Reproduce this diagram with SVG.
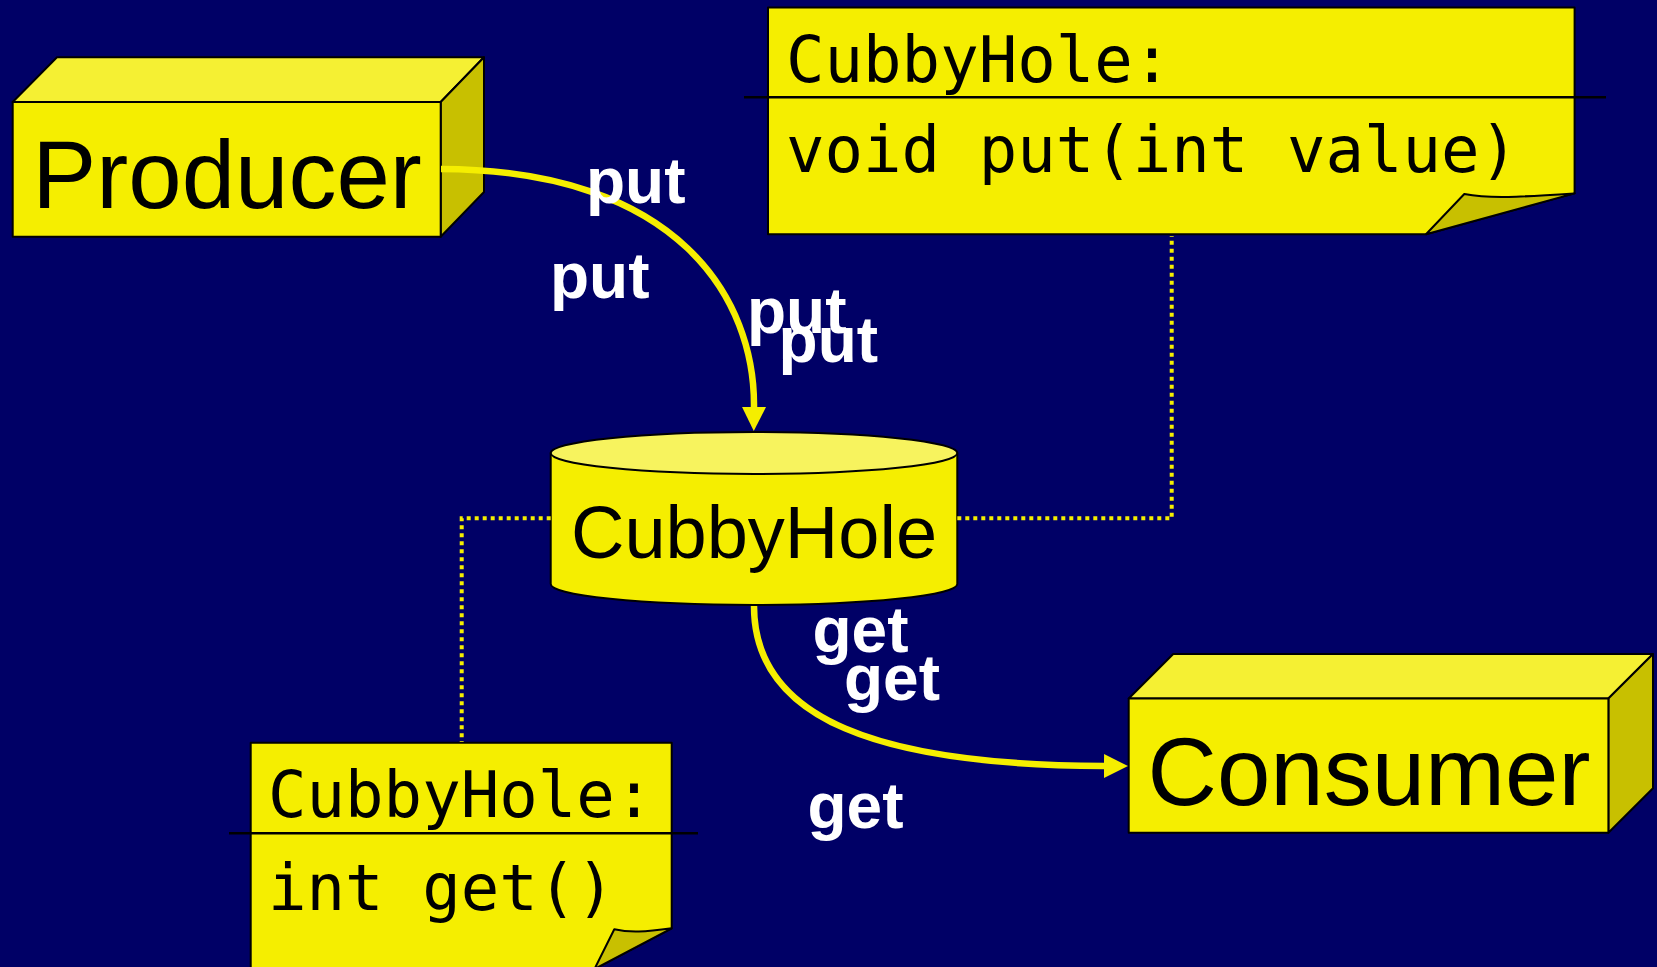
<svg xmlns="http://www.w3.org/2000/svg" width="1657" height="967" viewBox="0 0 1657 967">
<style>
.front{fill:#f5ee00;stroke:#000;stroke-width:2;stroke-linejoin:round}
.top{fill:#f5f033;stroke:#000;stroke-width:2;stroke-linejoin:round}
.side{fill:#c8c000;stroke:#000;stroke-width:2;stroke-linejoin:round}
.note{fill:#f5ee00;stroke:#000;stroke-width:2;stroke-linejoin:round}
.fold{fill:#c8c000;stroke:#000;stroke-width:2;stroke-linejoin:round}
.div{stroke:#000;stroke-width:2.5}
.big{font-family:"Liberation Sans",Arial,sans-serif;font-size:96px;fill:#000;text-anchor:middle}
.cyl{font-family:"Liberation Sans",Arial,sans-serif;font-size:74px;fill:#000;text-anchor:middle}
.mono{font-family:"DejaVu Sans Mono",monospace;font-size:64px;fill:#000}
.lbl{font-family:"Liberation Sans",Arial,sans-serif;font-size:64px;font-weight:bold;fill:#fff}
.flow{fill:none;stroke:#f5ee00;stroke-width:6.5}
.dot{fill:none;stroke:#f5ee00;stroke-width:4;stroke-dasharray:4 4}
</style>
<defs>
<marker id="ah" viewBox="0 0 24 24" refX="0" refY="12" markerWidth="24" markerHeight="24" markerUnits="userSpaceOnUse" orient="auto">
<path d="M0,0 L24,12 L0,24 z" fill="#f5ee00"/>
</marker>
</defs>
<rect x="0" y="0" width="1657" height="967" fill="#000066"/>

<g id="producer">
<polygon class="top" points="12.7,102 57,57.3 484,57.3 440.7,102"/>
<polygon class="side" points="440.7,102 484,57.3 484,192 440.7,236.7"/>
<rect class="front" x="12.7" y="102" width="428" height="134.7"/>
<text class="big" x="227" y="208">Producer</text>
</g>

<g id="consumer">
<polygon class="top" points="1128.7,698.5 1173.2,654 1653,654 1608.4,698.5"/>
<polygon class="side" points="1608.4,698.5 1653,654 1653,788.3 1608.4,832.8"/>
<rect class="front" x="1128.7" y="698.5" width="479.7" height="134.3"/>
<text class="big" x="1369" y="805">Consumer</text>
</g>

<g id="cubbyhole">
<path class="front" d="M550.7,453 L550.7,584 A203.3,21 0 0 0 957.3,584 L957.3,453 Z"/>
<ellipse cx="754" cy="453" rx="203.3" ry="21" fill="#f7f35e" stroke="#000" stroke-width="2"/>
<text class="cyl" x="754" y="558">CubbyHole</text>
</g>

<g id="note-put">
<polygon class="note" points="768,7.4 1574.6,7.4 1574.6,193.4 1426,234.3 768,234.3"/>
<path class="fold" d="M1426,234.3 L1464.3,194 C1490,199 1520,197 1574.6,193.4 Z"/>
<line class="div" x1="744" y1="97.2" x2="1606" y2="97.2"/>
<text class="mono" x="786" y="82.4">CubbyHole:</text>
<text class="mono" x="786" y="172.3">void put(int value)</text>
</g>

<g id="note-get">
<polygon class="note" points="250.7,742.7 671.7,742.7 671.7,928.3 594.5,969 250.7,969"/>
<path class="fold" d="M594.5,969 L614.3,929.3 C630,933 645,932 671.7,928.3 Z"/>
<line class="div" x1="229" y1="833.3" x2="698" y2="833.3"/>
<text class="mono" x="268" y="817.3">CubbyHole:</text>
<text class="mono" x="268" y="910">int get()</text>
</g>

<g id="connectors">
<path class="dot" d="M957.3,518.3 L1171.7,518.3 L1171.7,236"/>
<path class="dot" d="M550.7,518.3 L461.7,518.3 L461.7,742"/>
<path class="flow" d="M441,169 C680,170 755,300 754,407" marker-end="url(#ah)"/>
<path class="flow" d="M754,606 C754,720 880,765 1104,766" marker-end="url(#ah)"/>
</g>

<g id="labels">
<text class="lbl" x="586" y="203.3">put</text>
<text class="lbl" x="550" y="298.3">put</text>
<text class="lbl" x="747" y="333.3">put</text>
<text class="lbl" x="778.6" y="361.7">put</text>
<text class="lbl" x="812.5" y="651.7">get</text>
<text class="lbl" x="844" y="700">get</text>
<text class="lbl" x="807.5" y="828.3">get</text>
</g>
</svg>
